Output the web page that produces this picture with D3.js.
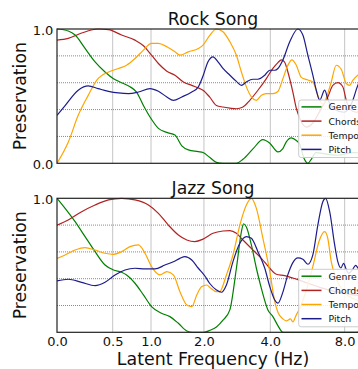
<!DOCTYPE html>
<html><head><meta charset="utf-8">
<script src="https://cdn.jsdelivr.net/npm/d3@7"></script>
<style>
html,body{margin:0;padding:0;background:#fff;overflow:hidden;}
svg{display:block;font-family:"DejaVu Sans",sans-serif;}
</style></head>
<body>
<svg id="chart" width="358" height="369"></svg>
<script>
// ---- data ----
const seriesNames = ["Genre", "Chords", "Tempo", "Pitch"];
const panelTitles = ["Rock Song", "Jazz Song"];
const xTickBins = [0, 17.85, 30.13, 47.1, 68.37, 92.2];   // latent bin index of each tick
const xTickLabels = ["0.0", "0.5", "1.0", "2.0", "4.0", "8.0"];
const yTicksTop = [0, 1];
const yTicksBottom = [1];
const yGrid = [0.2, 0.4, 0.6, 0.8];

const rockGenre = [[0,1],[3.6,.985],[5.8,.955],[9,.855],[12.2,.755],[15.4,.68],[18.1,.63],[20.7,.6],[23.4,.57],[25.5,.53],[27.7,.43],[29.8,.345],[32.5,.26],[35.2,.23],[37.8,.21],[40,.13],[42.1,.1],[45.3,.087],[46.8,.08],[48.9,.045],[51.1,.007],[53.2,0],[57.5,0],[59.6,.03],[62.8,.107],[66,.177],[68.2,.15],[70.8,.085],[72.4,.11],[73.5,.16],[75.1,.19],[76.7,.17],[77.7,.145],[79.3,.03],[80.4,0],[81.5,.03],[83,.08],[86,.07],[90,.06],[95,.08],[100,.07]];
const rockChords = [[0,.917],[3.6,.93],[7.9,.97],[13.2,1],[16.5,.995],[20.7,.955],[25,.917],[27.7,.875],[30.3,.805],[32.5,.743],[35.2,.686],[37.8,.656],[40.5,.606],[43.2,.58],[45.8,.556],[46.8,.544],[48.9,.494],[51.1,.431],[53.2,.419],[55.4,.411],[57.5,.406],[59.6,.419],[61.8,.469],[64.4,.544],[67.1,.631],[69.2,.706],[70.8,.75],[71.9,.77],[72.9,.756],[74,.68],[75.6,.53],[76.7,.41],[77.4,.36],[78.5,.3],[80,.27],[82,.3],[84.5,.4],[86.8,.494],[88.4,.58],[90,.6],[91.6,.57],[92.7,.47],[94,.4],[96,.38],[98,.42],[100,.45]];
const rockTempo = [[0,0],[3.6,.157],[6.8,.357],[10,.506],[12.7,.618],[16.5,.68],[19.7,.706],[22.3,.73],[25,.78],[27.7,.843],[30.3,.893],[32.5,.893],[35.2,.868],[37.8,.83],[39.4,.805],[42.1,.83],[45.3,.855],[46.8,.88],[48.9,.95],[51.1,1],[53.2,.98],[55.4,.905],[57.5,.805],[59.1,.68],[60.7,.569],[62.3,.494],[63.9,.469],[65.5,.506],[67.1,.519],[69.2,.519],[70.8,.535],[72.4,.63],[74,.73],[75.3,.77],[76.7,.73],[78.3,.64],[80.4,.62],[82,.606],[83.6,.506],[84.2,.47],[85.3,.44],[86.5,.5],[87.9,.606],[89.5,.73],[91.1,.7],[92.7,.594],[93.8,.58],[94.8,.618],[96.4,.656],[98,.68],[100,.66]];
const rockPitch = [[0,.357],[2.6,.43],[6.8,.544],[10,.576],[13.2,.556],[16.5,.536],[19.7,.524],[22.9,.519],[26.1,.531],[29.8,.556],[32.5,.536],[35.2,.494],[37.3,.469],[40,.494],[43.2,.531],[45.3,.569],[46.8,.65],[48.4,.756],[50,.793],[51.6,.756],[53.2,.706],[55.4,.656],[57.5,.61],[59.1,.58],[60.7,.606],[62.8,.626],[64.4,.626],[66.6,.656],[68.2,.693],[69.8,.693],[70.8,.706],[72.4,.77],[74.6,.905],[77.2,1],[78.8,.955],[80.4,.805],[82,.656],[83.1,.544],[84.2,.47],[85.8,.545],[86.9,.47],[89,.4],[92,.38],[94.5,.45],[96.4,.58],[98,.65],[100,.62]];

const jazzGenre = [[0,1],[2.6,.925],[5.8,.826],[9,.714],[12.2,.602],[15.4,.502],[18.1,.465],[20.7,.448],[22.3,.428],[25,.366],[27.7,.279],[30.3,.192],[33.5,.142],[36.2,.117],[38.9,.067],[41.6,.01],[43.5,0],[47,0],[49,.015],[51.1,.04],[53.2,.09],[55.4,.167],[57.5,.478],[59.1,.75],[59.8,.81],[60.7,.786],[62.3,.652],[63.9,.478],[65.5,.328],[67.6,.167],[69.2,.117],[70.8,.05],[72.4,0],[96,0],[100,.03]];
const jazzChords = [[0,.8],[3.6,.838],[7.9,.9],[12.2,.95],[16.5,.988],[20.7,1],[25,.988],[29.3,.95],[32.5,.888],[35.7,.8],[38.9,.726],[41.6,.689],[44.2,.677],[46.8,.695],[50,.739],[53.2,.756],[55.4,.759],[57.5,.739],[59.6,.689],[62.8,.614],[65.5,.552],[68.2,.478],[70.3,.433],[73,.423],[75.1,.408],[77.2,.393],[80,.37],[85,.33],[90,.3],[95,.28],[100,.27]];
const jazzTempo = [[0,.552],[2.6,.577],[5.8,.614],[9,.632],[12.2,.614],[15.4,.59],[18.1,.582],[20.7,.602],[23.4,.639],[26.1,.652],[28.2,.59],[30.3,.49],[33,.428],[35.2,.453],[37.3,.428],[39.4,.303],[41.6,.204],[43.2,.192],[44.8,.279],[46.4,.341],[48,.353],[49,.335],[51.1,.303],[52.1,.303],[54.3,.428],[56.4,.577],[58.6,.8],[60.7,.95],[62.3,1],[63.9,.925],[66,.701],[68.2,.453],[69.8,.229],[70.8,.15],[72.4,.1],[73.5,.085],[74.8,.1],[75.6,.078],[76.7,.13],[77.4,.16],[79,.25],[81,.4],[82,.49],[84,.68],[85.8,.751],[86.8,.7],[87.9,.527],[89.5,.4],[92,.3],[95,.25],[100,.22]];
const jazzPitch = [[0,.383],[3.6,.396],[7.9,.373],[12.2,.348],[15.4,.373],[18.6,.428],[21.8,.465],[25,.478],[28.2,.473],[31.4,.473],[34.6,.502],[37.3,.527],[39.4,.552],[41,.565],[43.2,.54],[45.3,.478],[47.4,.42],[48.9,.366],[51.1,.316],[52.7,.299],[54.3,.353],[56.4,.527],[58.6,.664],[60.7,.714],[62.3,.701],[64.4,.602],[66.6,.478],[68.2,.341],[69.8,.241],[70.8,.217],[72.4,.3],[74,.43],[75.6,.52],[77.2,.555],[78.8,.545],[80.4,.508],[82,.578],[83.6,.8],[85.2,.975],[86.1,1],[87.4,.9],[89,.652],[90,.527],[91,.48],[91.85,.515],[92.7,.47],[93.5,.44],[94.8,.47],[95.7,.5],[97,.46],[100,.42]];

// ---- layout / style ----
const colors = ["#008000", "#b22222", "#ffa500", "#1c1c8c"];
const W = 358, H = 369;
const left = 57, right = 369;
const panels = [
  {top: 29, bottom: 163.3, title: panelTitles[0], yTicks: yTicksTop, series: [rockGenre, rockChords, rockTempo, rockPitch], titleY: 24.5},
  {top: 198.3, bottom: 332.3, title: panelTitles[1], yTicks: yTicksBottom, series: [jazzGenre, jazzChords, jazzTempo, jazzPitch], titleY: 194.3}
];

const svg = d3.select("#chart");
const x = d3.scaleLinear().domain([0, 100]).range([left, right]);

panels.forEach((p, pi) => {
  const y = d3.scaleLinear().domain([0, 1]).range([p.bottom, p.top]);
  const g = svg.append("g");

  const clipId = "clip" + pi;
  svg.append("clipPath").attr("id", clipId).append("rect")
    .attr("x", left).attr("y", p.top - 1).attr("width", right - left).attr("height", p.bottom - p.top + 2);

  // grid
  g.selectAll(".vg").data(xTickBins.slice(1)).join("line")
    .attr("x1", d => x(d)).attr("x2", d => x(d)).attr("y1", p.top).attr("y2", p.bottom)
    .attr("stroke", "#c4c4c4").attr("stroke-width", 1);
  g.selectAll(".hg").data(yGrid).join("line")
    .attr("x1", left).attr("x2", right).attr("y1", d => y(d)).attr("y2", d => y(d))
    .attr("stroke", "#8a8a8a").attr("stroke-width", 1).attr("stroke-dasharray", "1,1");

  // lines
  const line = d3.line().x(d => x(d[0])).y(d => y(d[1])).curve(d3.curveMonotoneX);
  const lg = g.append("g").attr("clip-path", `url(#${clipId})`);
  p.series.forEach((s, i) => {
    lg.append("path").attr("d", line(s)).attr("fill", "none")
      .attr("stroke", colors[i]).attr("stroke-width", 1.2).attr("stroke-linejoin", "round");
  });

  // frame
  g.append("rect").attr("x", left).attr("y", p.top).attr("width", right - left).attr("height", p.bottom - p.top)
    .attr("fill", "none").attr("stroke", "#222").attr("stroke-width", 1.2);

  // y axis labels
  const ya = d3.axisLeft(y).tickValues(p.yTicks).tickFormat(d3.format(".1f")).tickSize(0).tickPadding(3.7);
  const yg = g.append("g").attr("transform", `translate(${left},0)`).call(ya);
  yg.select(".domain").remove();
  yg.selectAll("text").attr("font-size", 13).attr("font-family", "DejaVu Sans").attr("fill", "#111").attr("dy", "0.42em");

  // y label
  g.append("text").attr("transform", `translate(26,${(p.top + p.bottom) / 2}) rotate(-90)`)
    .attr("text-anchor", "middle").attr("font-size", 17.3).attr("fill", "#111").text("Preservation");

  // title
  g.append("text").attr("x", (left + right) / 2).attr("y", p.titleY).attr("text-anchor", "middle")
    .attr("font-size", 17.3).attr("fill", "#111").text(p.title);

  // legend
  const legTop = p.top + 71;
  const leg = g.append("g");
  leg.append("rect").attr("x", 298.7).attr("y", legTop).attr("width", 90).attr("height", 57.5).attr("rx", 2.5)
    .attr("fill", "#fff").attr("fill-opacity", 0.85).attr("stroke", "#cccccc").attr("stroke-width", 1);
  const rowOff = [6.9, 21.1, 35.2, 49.4];
  seriesNames.forEach((n, i) => {
    leg.append("line").attr("x1", 301.5).attr("x2", 321.5).attr("y1", legTop + rowOff[i]).attr("y2", legTop + rowOff[i])
      .attr("stroke", colors[i]).attr("stroke-width", 1.5);
    leg.append("text").attr("x", 328.6).attr("y", legTop + rowOff[i] + 3.4).attr("font-size", 9.3).attr("fill", "#111").text(n);
  });

  // x axis tick labels only on bottom panel
  if (pi === 1) {
    const xa = d3.axisBottom(x).tickValues(xTickBins).tickFormat((d, i) => xTickLabels[i]).tickSize(0).tickPadding(4.5);
    const xg = g.append("g").attr("transform", `translate(0,${p.bottom})`).call(xa);
    xg.select(".domain").remove();
    xg.selectAll("text").attr("font-size", 13).attr("font-family", "DejaVu Sans").attr("fill", "#111");
    g.append("text").attr("x", (left + right) / 2).attr("y", 365).attr("text-anchor", "middle")
      .attr("font-size", 17.4).attr("fill", "#111").text("Latent Frequency (Hz)");
  }
});
</script>
</body></html>
